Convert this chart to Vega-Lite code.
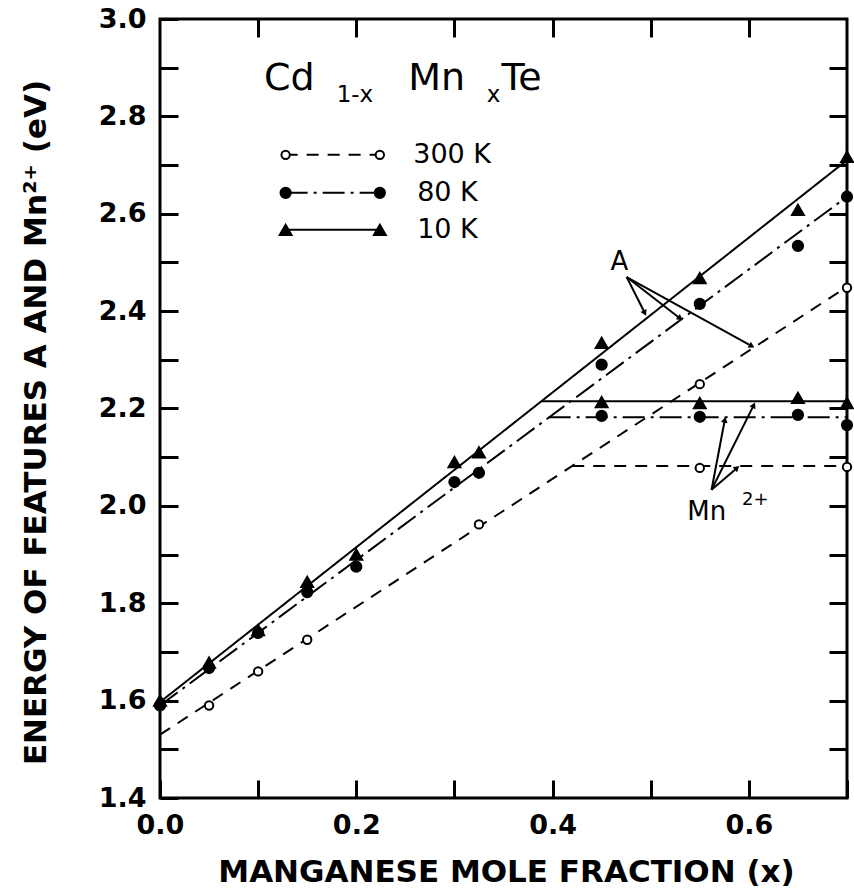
{
  "$schema": "https://vega.github.io/schema/vega-lite/v6.json",
  "width": 687,
  "height": 779,
  "autosize": {"type": "none"},
  "padding": {"left": 160, "top": 19, "right": 7, "bottom": 92},
  "background": "white",
  "config": {
    "view": {"stroke": "black", "strokeWidth": 3},
    "font": "DejaVu Sans",
    "axis": {
      "domain": false,
      "grid": false,
      "tickColor": "black",
      "tickWidth": 3,
      "tickSize": -18,
      "labelFont": "DejaVu Sans",
      "labelFontWeight": "bold",
      "labelFontSize": 27,
      "labelColor": "black",
      "titleFont": "DejaVu Sans",
      "titleFontWeight": "bold",
      "titleFontSize": 31,
      "titleColor": "black"
    }
  },
  "datasets": {
    "points": [
      {"temp": "300 K", "x": 0.05, "E": 1.59},
      {"temp": "300 K", "x": 0.10, "E": 1.66},
      {"temp": "300 K", "x": 0.15, "E": 1.725},
      {"temp": "300 K", "x": 0.325, "E": 1.962},
      {"temp": "300 K", "x": 0.55, "E": 2.25},
      {"temp": "300 K", "x": 0.70, "E": 2.448},
      {"temp": "300 K", "x": 0.55, "E": 2.078},
      {"temp": "300 K", "x": 0.70, "E": 2.08},
      {"temp": "80 K", "x": 0.0, "E": 1.59},
      {"temp": "80 K", "x": 0.05, "E": 1.667},
      {"temp": "80 K", "x": 0.10, "E": 1.739},
      {"temp": "80 K", "x": 0.15, "E": 1.823},
      {"temp": "80 K", "x": 0.20, "E": 1.875},
      {"temp": "80 K", "x": 0.30, "E": 2.049},
      {"temp": "80 K", "x": 0.325, "E": 2.068},
      {"temp": "80 K", "x": 0.45, "E": 2.29},
      {"temp": "80 K", "x": 0.55, "E": 2.415},
      {"temp": "80 K", "x": 0.65, "E": 2.534},
      {"temp": "80 K", "x": 0.70, "E": 2.635},
      {"temp": "80 K", "x": 0.45, "E": 2.185},
      {"temp": "80 K", "x": 0.55, "E": 2.183},
      {"temp": "80 K", "x": 0.65, "E": 2.187},
      {"temp": "80 K", "x": 0.70, "E": 2.166},
      {"temp": "10 K", "x": 0.0, "E": 1.60},
      {"temp": "10 K", "x": 0.05, "E": 1.678},
      {"temp": "10 K", "x": 0.10, "E": 1.745},
      {"temp": "10 K", "x": 0.15, "E": 1.844},
      {"temp": "10 K", "x": 0.20, "E": 1.90},
      {"temp": "10 K", "x": 0.30, "E": 2.09},
      {"temp": "10 K", "x": 0.325, "E": 2.11},
      {"temp": "10 K", "x": 0.45, "E": 2.335},
      {"temp": "10 K", "x": 0.55, "E": 2.468},
      {"temp": "10 K", "x": 0.65, "E": 2.608},
      {"temp": "10 K", "x": 0.70, "E": 2.717},
      {"temp": "10 K", "x": 0.45, "E": 2.213},
      {"temp": "10 K", "x": 0.55, "E": 2.211},
      {"temp": "10 K", "x": 0.65, "E": 2.222},
      {"temp": "10 K", "x": 0.70, "E": 2.211}
    ],
    "lines": [
      {"series": "10 K A", "temp": "10 K", "x": 0.0, "E": 1.597},
      {"series": "10 K A", "temp": "10 K", "x": 0.70, "E": 2.71},
      {"series": "10 K Mn", "temp": "10 K", "x": 0.389, "E": 2.215},
      {"series": "10 K Mn", "temp": "10 K", "x": 0.70, "E": 2.215},
      {"series": "80 K A", "temp": "80 K", "x": 0.0, "E": 1.59},
      {"series": "80 K A", "temp": "80 K", "x": 0.70, "E": 2.635},
      {"series": "80 K Mn", "temp": "80 K", "x": 0.396, "E": 2.182},
      {"series": "80 K Mn", "temp": "80 K", "x": 0.70, "E": 2.182},
      {"series": "300 K A", "temp": "300 K", "x": 0.0, "E": 1.53},
      {"series": "300 K A", "temp": "300 K", "x": 0.70, "E": 2.45},
      {"series": "300 K Mn", "temp": "300 K", "x": 0.42, "E": 2.082},
      {"series": "300 K Mn", "temp": "300 K", "x": 0.70, "E": 2.082}
    ],
    "legend": [
      {"temp": "300 K", "x": 0.128, "E": 2.721},
      {"temp": "300 K", "x": 0.224, "E": 2.721},
      {"temp": "80 K", "x": 0.128, "E": 2.643},
      {"temp": "80 K", "x": 0.224, "E": 2.643},
      {"temp": "10 K", "x": 0.128, "E": 2.567},
      {"temp": "10 K", "x": 0.224, "E": 2.567}
    ],
    "legendText": [
      {"temp": "300 K", "x": 0.258, "E": 2.721},
      {"temp": "80 K", "x": 0.262, "E": 2.643},
      {"temp": "10 K", "x": 0.262, "E": 2.567}
    ],
    "arrows": [
      {"x0": 0.4755, "y0": 2.47, "x1": 0.494, "y1": 2.396},
      {"x0": 0.4755, "y0": 2.47, "x1": 0.53, "y1": 2.385},
      {"x0": 0.4755, "y0": 2.47, "x1": 0.603, "y1": 2.328},
      {"x0": 0.562, "y0": 2.033, "x1": 0.5755, "y1": 2.177},
      {"x0": 0.562, "y0": 2.033, "x1": 0.605, "y1": 2.207},
      {"x0": 0.562, "y0": 2.033, "x1": 0.588, "y1": 2.078}
    ]
  },
  "resolve": {"axis": {"x": "independent", "y": "independent"}},
  "layer": [
    {
      "data": {"name": "lines"},
      "mark": {"type": "line", "color": "black", "strokeWidth": 2},
      "encoding": {
        "x": {
          "field": "x", "type": "quantitative",
          "scale": {"domain": [0, 0.7], "nice": false, "zero": false},
          "axis": {
            "orient": "bottom",
            "values": [0, 0.1, 0.2, 0.3, 0.4, 0.5, 0.6, 0.7],
            "labelExpr": "round(datum.value*10) % 2 == 0 ? format(datum.value, '.1f') : ''",
            "labelPadding": 32,
            "labelFlush": false,
            "title": "MANGANESE MOLE FRACTION (x)",
            "titleX": 346, "titleY": 74, "titleAnchor": null,
            "titleAlign": "center", "titleBaseline": "middle"
          }
        },
        "y": {
          "field": "E", "type": "quantitative",
          "scale": {"domain": [1.4, 3.0], "nice": false, "zero": false},
          "axis": {
            "orient": "left",
            "values": [1.4, 1.5, 1.6, 1.7, 1.8, 1.9, 2.0, 2.1, 2.2, 2.3, 2.4, 2.5, 2.6, 2.7, 2.8, 2.9, 3.0],
            "labelExpr": "round(datum.value*10) % 2 == 0 ? format(datum.value, '.1f') : ''",
            "labelPadding": 32,
            "labelFlush": false,
            "title": "ENERGY OF FEATURES A AND Mn²⁺ (eV)",
            "titleAngle": -90,
            "titleX": -124, "titleY": 403,
            "titleAlign": "center", "titleBaseline": "middle"
          }
        },
        "detail": {"field": "series"},
        "strokeDash": {
          "field": "temp", "type": "nominal",
          "scale": {"domain": ["300 K", "80 K", "10 K"], "range": [[12, 9], [22, 6, 3, 6], [1, 0]]},
          "legend": null
        }
      }
    },
    {
      "data": {"name": "points"},
      "mark": {"type": "point", "filled": true, "stroke": "black", "strokeWidth": 2, "opacity": 1},
      "encoding": {
        "x": {
          "field": "x", "type": "quantitative",
          "axis": {"orient": "top", "values": [0.1, 0.2, 0.3, 0.4, 0.5, 0.6], "labels": false, "title": null}
        },
        "y": {
          "field": "E", "type": "quantitative",
          "axis": {"orient": "right", "values": [1.5, 1.6, 1.7, 1.8, 1.9, 2.0, 2.1, 2.2, 2.3, 2.4, 2.5, 2.6, 2.7, 2.8, 2.9], "labels": false, "title": null}
        },
        "shape": {
          "field": "temp", "type": "nominal",
          "scale": {"domain": ["300 K", "80 K", "10 K"], "range": ["circle", "circle", "triangle-up"]},
          "legend": null
        },
        "fill": {
          "field": "temp", "type": "nominal",
          "scale": {"domain": ["300 K", "80 K", "10 K"], "range": ["white", "black", "black"]},
          "legend": null
        },
        "size": {
          "field": "temp", "type": "nominal",
          "scale": {"domain": ["300 K", "80 K", "10 K"], "range": [70, 140, 160]},
          "legend": null
        }
      }
    },
    {
      "data": {"name": "legend"},
      "mark": {"type": "line", "color": "black", "strokeWidth": 2},
      "encoding": {
        "x": {"field": "x", "type": "quantitative", "axis": null},
        "y": {"field": "E", "type": "quantitative", "axis": null},
        "detail": {"field": "temp"},
        "strokeDash": {"field": "temp", "type": "nominal", "legend": null}
      }
    },
    {
      "data": {"name": "legend"},
      "mark": {"type": "point", "filled": true, "stroke": "black", "strokeWidth": 2, "opacity": 1},
      "encoding": {
        "x": {"field": "x", "type": "quantitative", "axis": null},
        "y": {"field": "E", "type": "quantitative", "axis": null},
        "shape": {"field": "temp", "type": "nominal", "legend": null},
        "fill": {"field": "temp", "type": "nominal", "legend": null},
        "size": {"field": "temp", "type": "nominal", "legend": null}
      }
    },
    {
      "data": {"name": "legendText"},
      "mark": {"type": "text", "align": "left", "baseline": "middle", "fontSize": 27, "font": "DejaVu Sans", "color": "black"},
      "encoding": {
        "x": {"field": "x", "type": "quantitative", "axis": null},
        "y": {"field": "E", "type": "quantitative", "axis": null},
        "text": {"field": "temp"}
      }
    },
    {
      "data": {"name": "arrows"},
      "mark": {"type": "rule", "color": "black", "strokeWidth": 2},
      "encoding": {
        "x": {"field": "x0", "type": "quantitative", "axis": null},
        "y": {"field": "y0", "type": "quantitative", "axis": null},
        "x2": {"field": "x1"},
        "y2": {"field": "y1"}
      }
    },
    {
      "data": {"name": "arrows"},
      "transform": [
        {"calculate": "atan2((datum.x1 - datum.x0) * 980, (datum.y1 - datum.y0) * 487) * 180 / PI", "as": "ang"}
      ],
      "mark": {"type": "point", "shape": "triangle-up", "filled": true, "color": "black", "size": 45, "opacity": 1},
      "encoding": {
        "x": {"field": "x1", "type": "quantitative", "axis": null},
        "y": {"field": "y1", "type": "quantitative", "axis": null},
        "angle": {"field": "ang", "type": "quantitative", "scale": null}
      }
    },
    {
      "data": {"values": [{"t": "A", "x": 0.468, "E": 2.50}, {"t": "Mn", "x": 0.557, "E": 1.988}]},
      "mark": {"type": "text", "align": "center", "baseline": "middle", "fontSize": 26, "font": "DejaVu Sans", "color": "black"},
      "encoding": {
        "x": {"field": "x", "type": "quantitative", "axis": null},
        "y": {"field": "E", "type": "quantitative", "axis": null},
        "text": {"field": "t"}
      }
    },
    {
      "data": {"values": [{"t": "2+", "x": 0.593, "E": 2.012}]},
      "mark": {"type": "text", "align": "left", "baseline": "middle", "fontSize": 18, "font": "DejaVu Sans", "color": "black"},
      "encoding": {
        "x": {"field": "x", "type": "quantitative", "axis": null},
        "y": {"field": "E", "type": "quantitative", "axis": null},
        "text": {"field": "t"}
      }
    },
    {
      "data": {"values": [{"t": "Cd", "x": 0.106, "E": 2.854}, {"t": "Mn", "x": 0.253, "E": 2.854}, {"t": "Te", "x": 0.348, "E": 2.854}]},
      "mark": {"type": "text", "align": "left", "baseline": "alphabetic", "fontSize": 38, "font": "DejaVu Sans", "color": "black"},
      "encoding": {
        "x": {"field": "x", "type": "quantitative", "axis": null},
        "y": {"field": "E", "type": "quantitative", "axis": null},
        "text": {"field": "t"}
      }
    },
    {
      "data": {"values": [{"t": "1-x", "x": 0.18, "E": 2.83}, {"t": "x", "x": 0.333, "E": 2.83}]},
      "mark": {"type": "text", "align": "left", "baseline": "alphabetic", "fontSize": 23, "font": "DejaVu Sans", "color": "black"},
      "encoding": {
        "x": {"field": "x", "type": "quantitative", "axis": null},
        "y": {"field": "E", "type": "quantitative", "axis": null},
        "text": {"field": "t"}
      }
    }
  ]
}
